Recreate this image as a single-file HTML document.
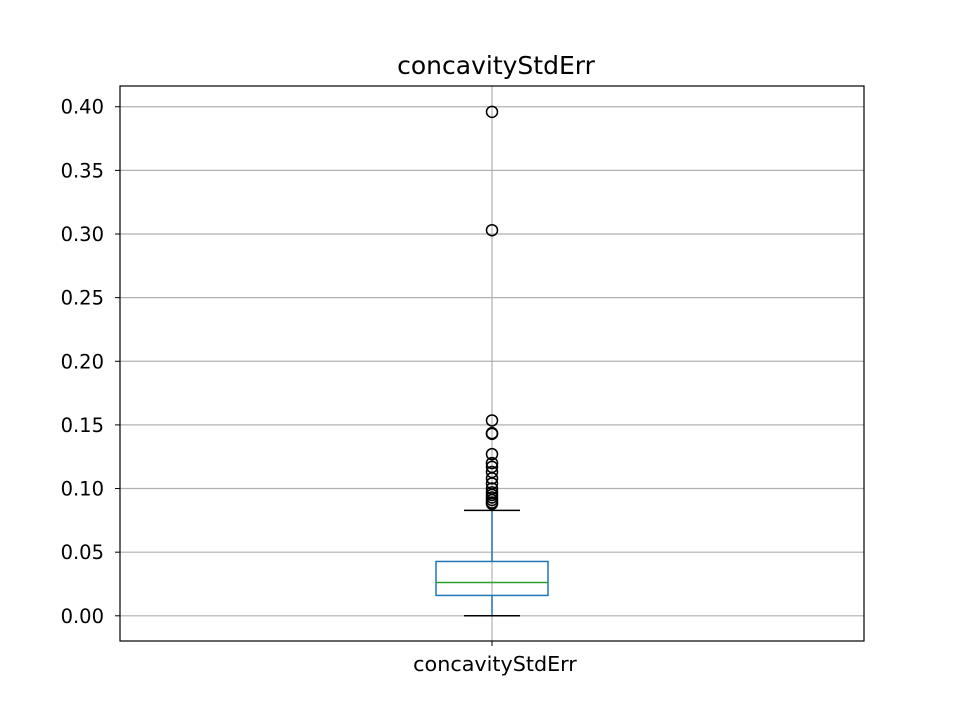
<!DOCTYPE html>
<html><head><meta charset="utf-8"><style>
body{margin:0;background:#fff;font-family:"DejaVu Sans",sans-serif}
</style></head><body>
<svg id="chart" width="960" height="720" xmlns="http://www.w3.org/2000/svg" font-family="DejaVu Sans, sans-serif"></svg>
<script>
const categories = ["concavityStdErr"];
const whiskerLow = [0.0];
const q1 = [0.016];
const median = [0.0262];
const q3 = [0.0427];
const whiskerHigh = [0.0828];
const outliers = [[0.396,0.303,0.1535,0.1435,0.143,0.127,0.120,0.117,0.113,0.108,0.104,0.100,0.097,0.095,0.093,0.091,0.089,0.088]];
const yTicks = [0,0.05,0.10,0.15,0.20,0.25,0.30,0.35,0.40];
const yTickLabels = ["0.00","0.05","0.10","0.15","0.20","0.25","0.30","0.35","0.40"];

const svg = document.getElementById('chart');
const NS = "http://www.w3.org/2000/svg";
const L=120,R=864,T=86,B=641;
const yMin=-0.0198,yMax=0.4163;
const y = v => B - (v - yMin)/(yMax - yMin)*(B-T);
const x = i => L + (i+0.5)*(R-L)/categories.length;
function el(tag, attrs, parent){const e=document.createElementNS(NS,tag);for(const k in attrs)e.setAttribute(k,attrs[k]);(parent||svg).appendChild(e);return e;}

yTicks.forEach((t,i)=>{
  const g=el('line',{x1:L,x2:R,y1:y(t),y2:y(t),stroke:'#b0b0b0','stroke-width':1.2});
  
  
  const tk=el('line',{x1:L-5,x2:L,y1:y(t),y2:y(t),stroke:'#000','stroke-width':1});
  
  
  const tx=el('text',{x:L-16,y:y(t)+7,'text-anchor':'end','font-size':'19.5',fill:'#000'});
  tx.textContent=yTickLabels[i];
  
  
});
categories.forEach((c,i)=>{
  const cx=x(i);
  const vg=el('line',{x1:cx,x2:cx,y1:T,y2:B,stroke:'#b0b0b0','stroke-width':1.2});
  
  
  const bw=112, cw=56;
  const w1=el('line',{x1:cx,x2:cx,y1:y(q3[i]),y2:y(whiskerHigh[i]),stroke:'#1f77b4','stroke-width':1.5});
  
  
  const w2=el('line',{x1:cx,x2:cx,y1:y(q1[i]),y2:y(whiskerLow[i]),stroke:'#1f77b4','stroke-width':1.5});
  
  
  const c1=el('line',{x1:cx-cw/2,x2:cx+cw/2,y1:y(whiskerHigh[i]),y2:y(whiskerHigh[i]),stroke:'#000','stroke-width':1.5});
  
  
  const c2=el('line',{x1:cx-cw/2,x2:cx+cw/2,y1:y(whiskerLow[i]),y2:y(whiskerLow[i]),stroke:'#000','stroke-width':1.5});
  
  
  const bx=el('rect',{x:cx-bw/2,y:y(q3[i]),width:bw,height:y(q1[i])-y(q3[i]),fill:'none',stroke:'#1f77b4','stroke-width':1.5});
  
  
  const md=el('line',{x1:cx-bw/2,x2:cx+bw/2,y1:y(median[i]),y2:y(median[i]),stroke:'#2ca02c','stroke-width':1.5});
  
  
  outliers[i].forEach(v=>{
    const o=el('circle',{cx:cx,cy:y(v),r:5.5,fill:'none',stroke:'#000','stroke-width':1.5});
    
    
  });
  const xt=el('line',{x1:cx,x2:cx,y1:B,y2:B+5,stroke:'#000','stroke-width':1});
  
  
  const xl=el('text',{x:cx+3,y:B+30,'text-anchor':'middle','font-size':'20.7',fill:'#000'});
  xl.textContent=c;
  
  
});
const frame=el('rect',{x:L,y:T,width:R-L,height:B-T,fill:'none',stroke:'#000','stroke-width':1.2});


const title=el('text',{x:(L+R)/2+4,y:T-12,'text-anchor':'middle','font-size':'25',fill:'#000'});
title.textContent='concavityStdErr';


</script>
</body></html>
